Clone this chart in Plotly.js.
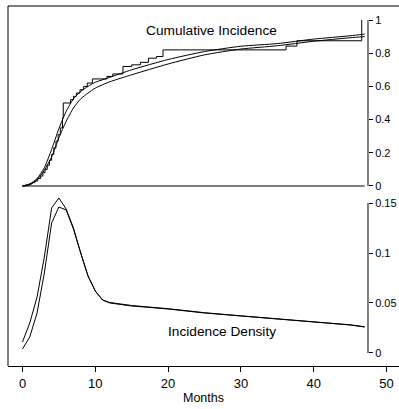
<!DOCTYPE html>
<html>
<head>
<meta charset="utf-8">
<script src="https://cdn.plot.ly/plotly-3.0.1.min.js"></script>
<style>html,body{margin:0;padding:0;background:#fff;}#chart{width:399px;height:409px;}</style>
</head>
<body>
<div id="chart"></div>
<script>
// ---- data ----
var gridMonths = [0,1,2,3,4,5,6,7,8,9,10,11,12,15,20,25,30,35,40,45,47];
var cumFitA = [0,0.012,0.045,0.11,0.22,0.345,0.45,0.525,0.57,0.60,0.625,0.64,0.655,0.70,0.762,0.81,0.842,0.858,0.885,0.905,0.915];
var cumFitB = [0,0.008,0.038,0.095,0.175,0.29,0.39,0.47,0.525,0.56,0.59,0.61,0.628,0.67,0.735,0.79,0.825,0.845,0.872,0.893,0.90];
var densA = [0.011,0.030,0.056,0.096,0.145,0.155,0.144,0.125,0.100,0.077,0.062,0.053,0.050,0.047,0.044,0.040,0.037,0.034,0.031,0.028,0.026];
var densB = [0.004,0.016,0.040,0.080,0.130,0.146,0.143,0.124,0.100,0.077,0.062,0.053,0.0505,0.0475,0.0443,0.0403,0.0372,0.0342,0.0312,0.0282,0.0262];
var stepMonths = [0,0.4,0.9,1.3,1.7,2.1,2.5,2.8,3.1,3.4,3.7,4.0,4.3,4.6,4.9,5.2,5.5,5.6,6.6,7.0,7.4,7.9,8.4,8.9,9.6,11.6,12.4,13.8,15.0,16.2,17.3,18.4,19.3,36.2,37.7,46.6];
var stepCum = [0,0.006,0.012,0.02,0.03,0.045,0.06,0.08,0.10,0.125,0.155,0.19,0.23,0.27,0.31,0.35,0.41,0.50,0.52,0.54,0.56,0.58,0.60,0.62,0.645,0.66,0.675,0.72,0.73,0.745,0.77,0.78,0.82,0.843,0.875,1.0];
var xTicks = [0,10,20,30,40,50];
var cumTicks = [0,0.2,0.4,0.6,0.8,1];
var cumTickText = ['0','0.2','0.4','0.6','0.8','1'];
var densTicks = [0,0.05,0.1,0.15];
var densTickText = ['0','0.05','0.1','0.15'];
var labels = {cum:'Cumulative Incidence', dens:'Incidence Density', x:'Months'};

var FONT = 'Liberation Sans, Arial, Helvetica, sans-serif';
var line = {color:'#000', width:1};
var tStart = gridMonths[0], tEnd = gridMonths[gridMonths.length-1];

var traces = [
  {x:[tStart,tEnd], y:[0,0], mode:'lines', line:line, xaxis:'x', yaxis:'y', hoverinfo:'skip'},
  {x:stepMonths, y:stepCum, mode:'lines', line:{color:'#000', width:1, shape:'hv'}, xaxis:'x', yaxis:'y'},
  {x:gridMonths, y:cumFitA, mode:'lines', line:{color:'#000', width:1, shape:'spline', smoothing:0.6}, xaxis:'x', yaxis:'y'},
  {x:gridMonths, y:cumFitB, mode:'lines', line:{color:'#000', width:1, shape:'spline', smoothing:0.6}, xaxis:'x', yaxis:'y'},
  {x:gridMonths, y:densA, mode:'lines', line:line, xaxis:'x', yaxis:'y2'},
  {x:gridMonths, y:densB, mode:'lines', line:line, xaxis:'x', yaxis:'y2'}
];

var axPos = 0.9207;
var yCommon = {anchor:'free', position:axPos, side:'right', showline:false, showgrid:false, zeroline:false,
  ticks:'outside', ticklen:4, tickwidth:1, tickcolor:'#000', tickfont:{family:FONT, size:11, color:'#000'}};

var layout = {
  width:399, height:409,
  margin:{l:8, r:0, t:6, b:43, pad:0},
  paper_bgcolor:'#fff', plot_bgcolor:'#fff',
  showlegend:false,
  font:{family:FONT, color:'#000'},
  xaxis:{domain:[0,1], range:[-1.99,51.72], anchor:'y2', showline:true, linecolor:'#000', linewidth:1,
    ticks:'outside', ticklen:5, tickwidth:1, tickcolor:'#000', tickvals:xTicks, showgrid:false, zeroline:false,
    tickfont:{family:FONT, size:13, color:'#000'},
    title:{text:labels.x, font:{family:FONT, size:12.5, color:'#000'}, standoff:3}},
  yaxis:Object.assign({domain:[0.4889,0.9722], range:[-0.0241,1.0241], tickvals:cumTicks, ticktext:cumTickText}, yCommon),
  yaxis2:Object.assign({domain:[0,0.4722], range:[-0.013,0.157], tickvals:densTicks, ticktext:densTickText}, yCommon),
  shapes:[
    {type:'line', xref:'paper', yref:'paper', x0:0, x1:0, y0:0, y1:1, line:{color:'#000', width:1}},
    {type:'line', xref:'paper', yref:'paper', x0:0, x1:1, y0:1, y1:1, line:{color:'#000', width:1}},
    {type:'line', xref:'paper', yref:'y', x0:axPos, x1:axPos, y0:cumTicks[0], y1:cumTicks[cumTicks.length-1], line:{color:'#000', width:1}},
    {type:'line', xref:'paper', yref:'y2', x0:axPos, x1:axPos, y0:densTicks[0], y1:densTicks[densTicks.length-1], line:{color:'#000', width:1}}
  ],
  annotations:[
    {text:labels.cum, xref:'x', yref:'y', x:25.9, y:0.934, showarrow:false, font:{family:FONT, size:13.7, color:'#000'}},
    {text:labels.dens, xref:'x', yref:'y2', x:27.4, y:0.0215, showarrow:false, font:{family:FONT, size:13.7, color:'#000'}}
  ]
};

Plotly.newPlot('chart', traces, layout, {staticPlot:true, displayModeBar:false});
</script>
</body>
</html>
